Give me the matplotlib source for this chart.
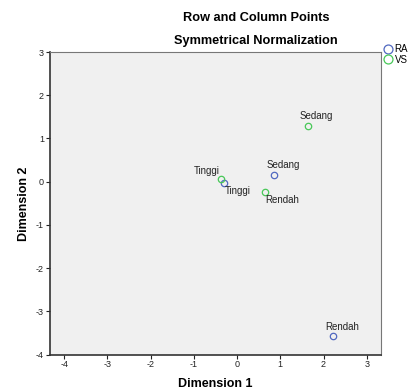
import matplotlib
matplotlib.use("Agg")
import matplotlib.pyplot as plt

plt.rcParams['font.family'] = ['Liberation Sans', 'DejaVu Sans']
plt.rcParams['axes.unicode_minus'] = False

# row points (RA) and column points (VS)
ra_labels = ['Rendah', 'Sedang', 'Tinggi']
ra_x = [2.21, 0.86, -0.31]
ra_y = [-3.57, 0.15, -0.03]

vs_labels = ['Rendah', 'Sedang', 'Tinggi']
vs_x = [0.64, 1.63, -0.37]
vs_y = [-0.24, 1.29, 0.06]

x_ticks = [-4, -3, -2, -1, 0, 1, 2, 3]
y_ticks = [-4, -3, -2, -1, 0, 1, 2, 3]

ra_color = '#5068C0'
vs_color = '#48C858'

fig = plt.figure(figsize=(4.18, 3.9), dpi=100)
ax = fig.add_axes([49.5 / 418, 1 - 354.7 / 390, (381 - 49.5) / 418, (354.7 - 52) / 390])
ax.set_facecolor('#F0F0F0')

ax.plot(ra_x, ra_y, 'o', mfc='none', mec=ra_color, ms=4.6, mew=0.9, label='RA')
ax.plot(vs_x, vs_y, 'o', mfc='none', mec=vs_color, ms=4.6, mew=0.9, label='VS')

# label offsets in pixels
ra_off = {'Rendah': (10, 9.5), 'Sedang': (9, 10), 'Tinggi': (14, -8)}
vs_off = {'Rendah': (17, -8), 'Sedang': (9, 9.5), 'Tinggi': (-14, 8)}
for lab, x, y in zip(ra_labels, ra_x, ra_y):
    dx, dy = ra_off[lab]
    ax.annotate(lab, (x, y), xytext=(dx * 0.72, dy * 0.72), textcoords='offset points',
                ha='center', va='center', fontsize=7, color='#222222')
for lab, x, y in zip(vs_labels, vs_x, vs_y):
    dx, dy = vs_off[lab]
    ax.annotate(lab, (x, y), xytext=(dx * 0.72, dy * 0.72), textcoords='offset points',
                ha='center', va='center', fontsize=7, color='#222222')

ax.set_xlim(-4.34, 3.33)
ax.set_ylim(-4, 3)
ax.set_xticks(x_ticks)
ax.set_yticks(y_ticks)
ax.tick_params(labelsize=6.5, length=3, width=0.8, colors='#222222', pad=1)

for s in ['left', 'bottom']:
    ax.spines[s].set_color('#333333')
    ax.spines[s].set_linewidth(1.2)
for s in ['top', 'right']:
    ax.spines[s].set_color('#777777')
    ax.spines[s].set_linewidth(0.8)

ax.set_xlabel('Dimension 1', fontsize=9, fontweight='bold', labelpad=6)
ax.set_ylabel('Dimension 2', fontsize=9, fontweight='bold', labelpad=4)

fig.text(256 / 418, 1 - 18 / 390, 'Row and Column Points', ha='center', va='center',
         fontsize=9.2, fontweight='bold')
fig.text(256 / 418, 1 - 41 / 390, 'Symmetrical Normalization', ha='center', va='center',
         fontsize=9.2, fontweight='bold')

ax.legend(loc='upper left', bbox_to_anchor=(1.0, 1.035), frameon=False, fontsize=7,
          handletextpad=0.3, handlelength=0.8, borderaxespad=0.2, labelspacing=0.05,
          borderpad=0.1, markerscale=1.4)

fig.savefig('out.png', dpi=100)
